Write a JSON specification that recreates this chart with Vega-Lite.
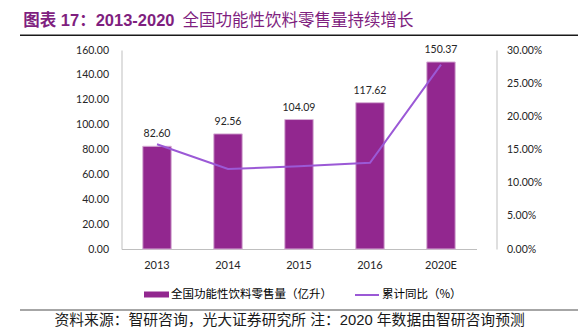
{
  "$schema": "https://vega.github.io/schema/vega-lite/v6.json",
  "autosize": {"type": "none"},
  "width": 558,
  "height": 199,
  "padding": {"left": 20, "top": 50, "right": 3, "bottom": 80},
  "datasets": {
    "main": [
      {"year": "2013", "value": 82.60, "growth": 0.158},
      {"year": "2014", "value": 92.56, "growth": 0.1206},
      {"year": "2015", "value": 104.09, "growth": 0.1246},
      {"year": "2016", "value": 117.62, "growth": 0.130},
      {"year": "2020E", "value": 150.37, "growth": 0.278}
    ]
  },
  "data": {"name": "main"},
  "layer": [
    {
      "encoding": {
        "x": {"field": "year", "type": "nominal", "sort": null,
          "scale": {"range": [101.5, 456.5], "paddingInner": 0.6, "paddingOuter": 0.3},
          "axis": {"orient": "bottom", "title": null, "labelAngle": 0, "ticks": false, "grid": false, "domainColor": "#bfbfbf", "labelPadding": 10, "labelFontSize": 11, "labelFont": "Lato", "labelColor": "#262626"}}
      },
      "layer": [
        {
          "encoding": {
            "y": {"field": "value", "type": "quantitative", "scale": {"domain": [0, 160]},
              "axis": {"orient": "left", "offset": -101.5, "values": [0, 20, 40, 60, 80, 100, 120, 140, 160], "format": ".2f", "grid": false, "ticks": false, "domainColor": "#bfbfbf", "labelPadding": 13, "labelFontSize": 10.5, "labelFont": "Lato", "labelColor": "#262626",
                "title": "图表 17：2013-2020", "titleX": -98.8, "titleY": -30, "titleAngle": 0, "titleAlign": "left", "titleBaseline": "middle", "titleFontSize": 16.5, "titleFontWeight": "bold", "titleColor": "#7F1F7F", "titleFont": "Liberation Sans, Noto Sans CJK SC"}}
          },
          "layer": [
            {
              "mark": {"type": "bar", "stroke": "#d7b0d6", "strokeWidth": 1},
              "encoding": {
                "fill": {"datum": "全国功能性饮料零售量（亿升）", "type": "nominal", "scale": {"range": ["#92278F"]},
                  "legend": {"title": null, "orient": "none", "legendX": 124, "legendY": 232, "symbolType": "M-1,-0.24H1V0.24H-1Z", "symbolSize": 625, "symbolStrokeWidth": 0, "labelFontSize": 11.5, "labelLimit": 300, "labelFont": "Noto Sans CJK SC", "labelColor": "#000", "labelOffset": 2}}
              }
            },
            {
              "mark": {"type": "text", "baseline": "bottom", "dy": -7, "fontSize": 10.5, "font": "Lato", "color": "#262626"},
              "encoding": {
                "text": {"field": "value", "type": "quantitative", "format": ".2f"}
              }
            }
          ]
        },
        {
          "mark": {"type": "line", "strokeWidth": 2},
          "encoding": {
            "y": {"field": "growth", "type": "quantitative", "scale": {"domain": [0, 0.3]},
              "axis": {"orient": "right", "offset": -81.5, "title": null, "values": [0, 0.05, 0.1, 0.15, 0.2, 0.25, 0.3], "format": ".2%", "grid": false, "ticks": false, "domainColor": "#bfbfbf", "labelPadding": 10, "labelFontSize": 10.5, "labelFont": "Lato", "labelColor": "#262626"}},
            "stroke": {"datum": "累计同比（%）", "type": "nominal", "scale": {"range": ["#9B59D6"]},
              "legend": {"title": null, "orient": "none", "legendX": 334, "legendY": 232, "symbolType": "stroke", "symbolSize": 576, "symbolStrokeWidth": 2, "labelFontSize": 11.5, "labelLimit": 300, "labelFont": "Noto Sans CJK SC", "labelColor": "#000", "labelOffset": 2}}
          }
        }
      ],
      "resolve": {"scale": {"y": "independent"}}
    },
    {
      "mark": {"type": "rect", "color": "#1a1a1a", "clip": false},
      "encoding": {
        "x": {"aggregate": "min", "field": "value", "type": "quantitative", "scale": {"zero": false, "nice": false},
          "axis": {"orient": "top", "offset": 15, "domain": false, "labels": false, "ticks": false, "grid": false,
            "title": "全国功能性饮料零售量持续增长", "titleX": 162, "titleY": -15, "titleAngle": 0, "titleAlign": "left", "titleBaseline": "middle", "titleFontSize": 16.5, "titleFontWeight": "normal", "titleColor": "#7F1F7F", "titleFont": "Noto Sans CJK SC"}},
        "x2": {"aggregate": "max", "field": "value"},
        "y": {"datum": 172.5, "type": "quantitative", "scale": {"domain": [0, 160], "zero": false, "nice": false}, "axis": null},
        "y2": {"datum": 171.3}
      }
    },
    {
      "mark": {"type": "rect", "color": "#a6a6a6", "clip": false},
      "encoding": {
        "x": {"aggregate": "min", "field": "growth", "type": "quantitative", "scale": {"zero": false, "nice": false},
          "axis": {"orient": "bottom", "offset": 61, "domain": false, "labels": false, "ticks": false, "grid": false,
            "title": "资料来源：智研咨询，光大证券研究所 注：2020 年数据由智研咨询预测", "titleX": 34, "titleY": 10, "titleAngle": 0, "titleAlign": "left", "titleBaseline": "middle", "titleFontSize": 14.8, "titleFontWeight": "normal", "titleColor": "#1a1a1a", "titleFont": "Liberation Sans, Noto Sans CJK SC"}},
        "x2": {"aggregate": "max", "field": "growth"},
        "y": {"datum": -48.3, "type": "quantitative", "scale": {"domain": [0, 160], "zero": false, "nice": false}, "axis": null},
        "y2": {"datum": -49.9}
      }
    }
  ],
  "resolve": {"scale": {"x": "independent", "y": "independent"}, "axis": {"x": "independent", "y": "independent"}},
  "config": {
    "view": {"stroke": null},
    "font": "Noto Sans CJK SC"
  }
}
